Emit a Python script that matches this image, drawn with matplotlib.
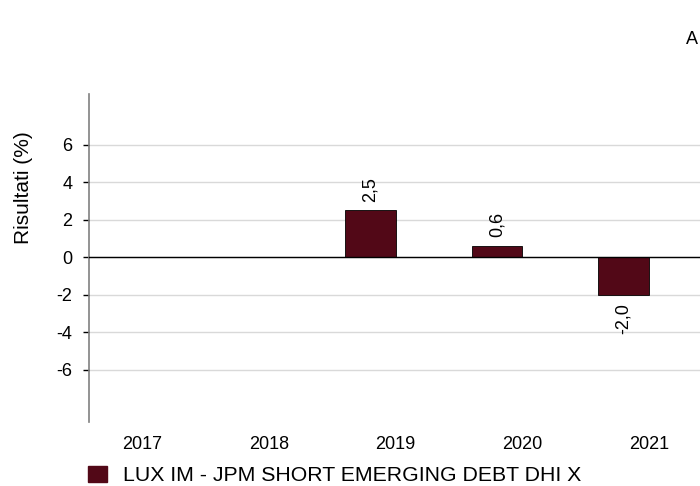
import matplotlib.pyplot as plt
from matplotlib.patches import Patch

plt.rcParams["font.family"] = ["Liberation Sans", "DejaVu Sans"]

years = ["2017", "2018", "2019", "2020", "2021"]
returns = [None, None, 2.5, 0.6, -2.0]
series_name = "LUX IM - JPM SHORT EMERGING DEBT DHI X"
bar_color = "#520817"

fig = plt.figure(figsize=(7, 4.86), dpi=100)
# the plot area runs past the right edge, as in the reference
ax = fig.add_axes([0.1271, 0.1317, 0.981, 0.675])

xs = [i for i, v in enumerate(returns) if v is not None]
vals = [v for v in returns if v is not None]
# bars sit in the left half of each category slot
ax.bar(xs, vals, width=-0.4, align="edge", color=bar_color,
       edgecolor="black", linewidth=0.6, zorder=3)

for x, v in zip(xs, vals):
    label = f"{v:.1f}".replace(".", ",")
    if v >= 0:
        ax.annotate(label, (x - 0.2, v), xytext=(0, 6), textcoords="offset points",
                    ha="center", va="bottom", rotation=90, fontsize=13)
    else:
        ax.annotate(label, (x - 0.2, v), xytext=(0, -6), textcoords="offset points",
                    ha="center", va="top", rotation=90, fontsize=13)

ax.set_xlim(-0.42, 5.0)
ax.set_ylim(-8.8, 8.7)
yt = [-6, -4, -2, 0, 2, 4, 6]
ax.set_yticks(yt)
ax.set_yticklabels([str(t) for t in yt], fontsize=13)
ax.set_xticks(range(len(years)))
ax.set_xticklabels(years, fontsize=13)
ax.tick_params(axis="x", length=0, pad=10)
ax.tick_params(axis="y", length=4, width=1, color="black", pad=8)

ax.grid(axis="y", color="#d9d9d9", linewidth=1, zorder=0)
ax.axhline(0, color="black", linewidth=1, zorder=4)
for side in ["top", "right", "bottom"]:
    ax.spines[side].set_visible(False)
ax.spines["left"].set_color("#808080")
ax.spines["left"].set_linewidth(1.2)

ax.set_ylabel("Risultati (%)", fontsize=15)
ax.yaxis.set_label_coords(-0.082, 0.715)

fig.legend(handles=[Patch(facecolor=bar_color, edgecolor=bar_color)], labels=[series_name],
           loc="center left", bbox_to_anchor=(0.1257, 0.022), frameon=False, fontsize=15.3,
           handlelength=0.9, handleheight=0.8, handletextpad=0.75,
           borderpad=0, borderaxespad=0)

fig.text(692 / 700, 1 - 39 / 486, "A", fontsize=13, ha="center", va="center")

fig.savefig("out.png", dpi=100)
